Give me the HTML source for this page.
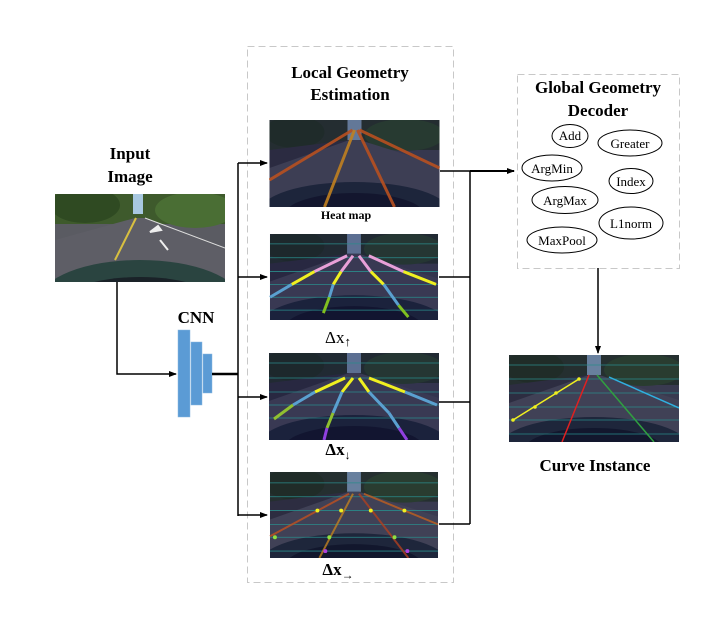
<!DOCTYPE html>
<html><head><meta charset="utf-8"><style>
html,body{margin:0;padding:0;background:#fff;}
svg{display:block;}
text{font-family:"Liberation Serif",serif;}
</style></head><body>
<svg width="723" height="622" viewBox="0 0 723 622" xmlns="http://www.w3.org/2000/svg">
<defs>
<symbol id="road" viewBox="0 0 170 87">
  <rect width="170" height="87" fill="#4b4d58"/>
  <rect width="170" height="30" fill="#2e3d2a"/>
  <rect x="78" y="0" width="14" height="20" fill="#8fb0c8"/>
  <ellipse cx="25" cy="12" rx="30" ry="16" fill="#27391f"/>
  <ellipse cx="135" cy="15" rx="40" ry="16" fill="#34502a"/>
  <polygon points="0,35 80,20 90,20 170,45 170,87 0,87" fill="#555660"/>
  <polygon points="0,30 80,20 0,48" fill="#3a3a42"/>
  <ellipse cx="85" cy="92" rx="95" ry="30" fill="#24303a"/>
  <ellipse cx="85" cy="95" rx="70" ry="22" fill="#141a26"/>
</symbol>
<marker id="ah" markerWidth="8" markerHeight="8" refX="7" refY="4" orient="auto" markerUnits="userSpaceOnUse"><path d="M0,1 L8,4 L0,7z" fill="#000"/></marker>
</defs>

<!-- dashed boxes -->
<rect x="247.5" y="46.5" width="206" height="536" fill="none" stroke="#c8c8c8" stroke-dasharray="7,4"/>
<rect x="517.5" y="74.5" width="162" height="194" fill="none" stroke="#c8c8c8" stroke-dasharray="7,4"/>

<!-- titles -->
<text x="350" y="78" font-size="17" font-weight="bold" text-anchor="middle">Local Geometry</text>
<text x="350" y="100" font-size="17" font-weight="bold" text-anchor="middle">Estimation</text>
<text x="130" y="159" font-size="17" font-weight="bold" text-anchor="middle">Input</text>
<text x="130" y="182" font-size="17" font-weight="bold" text-anchor="middle">Image</text>
<text x="196" y="323" font-size="17" font-weight="bold" text-anchor="middle">CNN</text>
<text x="598" y="93" font-size="17" font-weight="bold" text-anchor="middle">Global Geometry</text>
<text x="598" y="116" font-size="17" font-weight="bold" text-anchor="middle">Decoder</text>
<text x="595" y="471" font-size="17" font-weight="bold" text-anchor="middle">Curve Instance</text>
<text x="346" y="219" font-size="12" font-weight="bold" text-anchor="middle">Heat map</text>
<text x="338" y="343" font-size="17" text-anchor="middle">Δx<tspan font-size="13" dy="3">↑</tspan></text>
<text x="338" y="455" font-size="17" font-weight="bold" text-anchor="middle">Δx<tspan font-size="12" dy="4">↓</tspan></text>
<text x="338" y="575" font-size="17" font-weight="bold" text-anchor="middle">Δx<tspan font-size="12" dy="4">→</tspan></text>

<!-- input image -->
<svg x="55" y="194" width="170" height="88" viewBox="0 0 170 88">
  <rect width="170" height="88" fill="#5a5b62"/>
  <rect width="170" height="30" fill="#3e5a2c"/>
  <ellipse cx="30" cy="11" rx="35" ry="18" fill="#2f4a22"/>
  <ellipse cx="140" cy="16" rx="40" ry="18" fill="#4a6e34"/>
  <rect x="78" y="0" width="10" height="20" fill="#a8c8e0"/>
  <polygon points="0,46 80,24 90,24 170,56 170,88 0,88" fill="#5e5e66"/>
  <line x1="81" y1="24" x2="60" y2="66" stroke="#d8c040" stroke-width="2"/>
  <line x1="90" y1="24" x2="170" y2="54" stroke="#ddd" stroke-width="1"/>
  <path d="M95,38 l8,-6 l3,4z M105,46 l8,10" stroke="#eee" stroke-width="2" fill="#eee"/>
  <ellipse cx="85" cy="106" rx="100" ry="40" fill="#2a4440"/>
  <ellipse cx="85" cy="111" rx="80" ry="28" fill="#1a2228"/>
</svg>

<!-- heat map -->
<svg x="269" y="120" width="171" height="87" viewBox="0 0 170 87">
  <use href="#road" width="170" height="87"/>
  <rect width="170" height="87" fill="#101040" opacity="0.35"/>
  <g stroke-width="3" opacity="0.9">
    <line x1="83" y1="10" x2="0" y2="60" stroke="#b85020"/>
    <line x1="85" y1="10" x2="55" y2="87" stroke="#c08020"/>
    <line x1="88" y1="10" x2="125" y2="87" stroke="#b85020"/>
    <line x1="90" y1="10" x2="170" y2="48" stroke="#b85020"/>
  </g>
</svg>

<!-- dx up -->
<svg x="269" y="234" width="170" height="86" viewBox="0 0 170 87">
  <use href="#road" width="170" height="87"/>
  <rect width="170" height="87" fill="#101040" opacity="0.4"/>
  <g stroke="#2a8a8a" stroke-width="0.8"><line x1="0" y1="10" x2="170" y2="10"/><line x1="0" y1="24" x2="170" y2="24"/><line x1="0" y1="38" x2="170" y2="38"/><line x1="0" y1="51" x2="170" y2="51"/><line x1="0" y1="64" x2="170" y2="64"/><line x1="0" y1="77" x2="170" y2="77"/></g>
  <g stroke-width="3">
    <line x1="78" y1="22" x2="45" y2="38" stroke="#e8a0d8"/><line x1="45" y1="38" x2="22" y2="51" stroke="#f0f020"/><line x1="22" y1="51" x2="0" y2="64" stroke="#5aa0d0"/>
    <line x1="84" y1="22" x2="72" y2="38" stroke="#e8a0d8"/><line x1="72" y1="38" x2="64" y2="51" stroke="#f0f020"/><line x1="64" y1="51" x2="60" y2="64" stroke="#5aa0d0"/><line x1="60" y1="64" x2="54" y2="80" stroke="#80c020"/>
    <line x1="90" y1="22" x2="102" y2="38" stroke="#e8a0d8"/><line x1="102" y1="38" x2="115" y2="51" stroke="#f0f020"/><line x1="115" y1="51" x2="130" y2="72" stroke="#5aa0d0"/><line x1="130" y1="72" x2="140" y2="84" stroke="#80c020"/>
    <line x1="100" y1="22" x2="135" y2="38" stroke="#e8a0d8"/><line x1="135" y1="38" x2="168" y2="51" stroke="#f0f020"/>
  </g>
</svg>

<!-- dx down -->
<svg x="269" y="353" width="170" height="87" viewBox="0 0 170 87">
  <use href="#road" width="170" height="87"/>
  <rect width="170" height="87" fill="#101040" opacity="0.4"/>
  <g stroke="#2a8a8a" stroke-width="0.8"><line x1="0" y1="10" x2="170" y2="10"/><line x1="0" y1="25" x2="170" y2="25"/><line x1="0" y1="39" x2="170" y2="39"/><line x1="0" y1="52" x2="170" y2="52"/><line x1="0" y1="65" x2="170" y2="65"/></g>
  <g stroke-width="3">
    <line x1="76" y1="25" x2="46" y2="39" stroke="#f0f020"/><line x1="46" y1="39" x2="24" y2="52" stroke="#5aa0d0"/><line x1="24" y1="52" x2="5" y2="66" stroke="#90c030"/>
    <line x1="84" y1="25" x2="73" y2="39" stroke="#f0f020"/><line x1="73" y1="39" x2="64" y2="60" stroke="#5aa0d0"/><line x1="64" y1="60" x2="58" y2="75" stroke="#90c030"/><line x1="58" y1="75" x2="55" y2="87" stroke="#9040e0"/>
    <line x1="90" y1="25" x2="100" y2="39" stroke="#f0f020"/><line x1="100" y1="39" x2="120" y2="60" stroke="#5aa0d0"/><line x1="120" y1="60" x2="130" y2="75" stroke="#5aa0d0"/><line x1="130" y1="75" x2="138" y2="87" stroke="#9040e0"/>
    <line x1="100" y1="25" x2="136" y2="39" stroke="#f0f020"/><line x1="136" y1="39" x2="168" y2="52" stroke="#5aa0d0"/>
  </g>
</svg>

<!-- dx right -->
<svg x="269" y="472" width="170" height="86" viewBox="0 0 170 87">
  <use href="#road" width="170" height="87"/>
  <rect width="170" height="87" fill="#101040" opacity="0.3"/>
  <g stroke="#2a8a8a" stroke-width="0.8"><line x1="0" y1="11" x2="170" y2="11"/><line x1="0" y1="25" x2="170" y2="25"/><line x1="0" y1="39" x2="170" y2="39"/><line x1="0" y1="53" x2="170" y2="53"/><line x1="0" y1="66" x2="170" y2="66"/><line x1="0" y1="80" x2="170" y2="80"/></g>
  <g stroke-width="2" opacity="0.8">
    <line x1="80" y1="22" x2="0" y2="65" stroke="#c05020"/><line x1="84" y1="22" x2="50" y2="87" stroke="#c08020"/>
    <line x1="90" y1="22" x2="140" y2="87" stroke="#b04020"/><line x1="95" y1="22" x2="170" y2="53" stroke="#c06020"/>
  </g>
  <g fill="#f0f020"><circle cx="48" cy="39" r="2"/><circle cx="72" cy="39" r="2"/><circle cx="102" cy="39" r="2"/><circle cx="136" cy="39" r="2"/></g>
  <g fill="#90e040"><circle cx="5" cy="66" r="2"/><circle cx="60" cy="66" r="2"/><circle cx="126" cy="66" r="2"/></g>
  <g fill="#b040e0"><circle cx="56" cy="80" r="2"/><circle cx="139" cy="80" r="2"/></g>
</svg>

<!-- curve instance -->
<svg x="509" y="355" width="170" height="87" viewBox="0 0 170 87">
  <use href="#road" width="170" height="87"/>
  <rect width="170" height="87" fill="#101040" opacity="0.3"/>
  <g stroke="#2a8a8a" stroke-width="0.8"><line x1="0" y1="10" x2="170" y2="10"/><line x1="0" y1="24" x2="170" y2="24"/><line x1="0" y1="38" x2="170" y2="38"/><line x1="0" y1="52" x2="170" y2="52"/><line x1="0" y1="65" x2="170" y2="65"/><line x1="0" y1="79" x2="170" y2="79"/></g>
  <line x1="70" y1="24" x2="4" y2="65" stroke="#f0f020" stroke-width="1.5"/>
  <g fill="#f0f020"><circle cx="70" cy="24" r="1.8"/><circle cx="47" cy="38" r="1.8"/><circle cx="26" cy="52" r="1.8"/><circle cx="4" cy="65" r="1.8"/></g>
  <line x1="80" y1="20" x2="53" y2="87" stroke="#e02020" stroke-width="1.5"/>
  <line x1="88" y1="20" x2="145" y2="87" stroke="#30a040" stroke-width="1.5"/>
  <line x1="100" y1="22" x2="170" y2="53" stroke="#30b0e0" stroke-width="1.5"/>
</svg>

<!-- CNN bars -->
<rect x="178" y="330" width="12" height="87" fill="#5b9bd5" stroke="#8ab8e0" stroke-width="0.5"/>
<rect x="191" y="342" width="11" height="63" fill="#5b9bd5" stroke="#8ab8e0" stroke-width="0.5"/>
<rect x="203" y="354" width="9" height="39" fill="#5b9bd5" stroke="#8ab8e0" stroke-width="0.5"/>

<!-- connectors -->
<g stroke="#000" stroke-width="1.5" fill="none">
  <polyline points="117,282 117,374 176,374" marker-end="url(#ah)"/>
  <line x1="212" y1="374" x2="238" y2="374" stroke-width="2.5"/>
  <line x1="238" y1="163" x2="238" y2="516"/>
  <line x1="238" y1="163" x2="267" y2="163" marker-end="url(#ah)"/>
  <line x1="238" y1="277" x2="267" y2="277" marker-end="url(#ah)"/>
  <line x1="238" y1="397" x2="267" y2="397" marker-end="url(#ah)"/>
  <line x1="238" y1="515" x2="267" y2="515" marker-end="url(#ah)"/>
  <line x1="440" y1="171" x2="470" y2="171"/>
  <line x1="439" y1="277" x2="470" y2="277"/>
  <line x1="439" y1="402" x2="470" y2="402"/>
  <line x1="439" y1="524" x2="470" y2="524"/>
  <line x1="470" y1="171" x2="470" y2="524"/>
  <line x1="470" y1="171" x2="514" y2="171" stroke-width="2" marker-end="url(#ah)"/>
  <line x1="598" y1="268" x2="598" y2="353" marker-end="url(#ah)"/>
</g>

<!-- ellipses -->
<g fill="#fff" stroke="#000" stroke-width="1">
  <ellipse cx="570" cy="136" rx="18" ry="11.5"/>
  <ellipse cx="630" cy="143" rx="32" ry="13"/>
  <ellipse cx="552" cy="168" rx="30" ry="13"/>
  <ellipse cx="631" cy="181" rx="22" ry="12.5"/>
  <ellipse cx="565" cy="200" rx="33" ry="13.5"/>
  <ellipse cx="631" cy="223" rx="32" ry="16"/>
  <ellipse cx="562" cy="240" rx="35" ry="13"/>
</g>
<g font-size="13" text-anchor="middle" fill="#000">
  <text x="570" y="140">Add</text>
  <text x="630" y="148">Greater</text>
  <text x="552" y="173">ArgMin</text>
  <text x="631" y="186">Index</text>
  <text x="565" y="205">ArgMax</text>
  <text x="631" y="228">L1norm</text>
  <text x="562" y="245">MaxPool</text>
</g>
</svg>
</body></html>
